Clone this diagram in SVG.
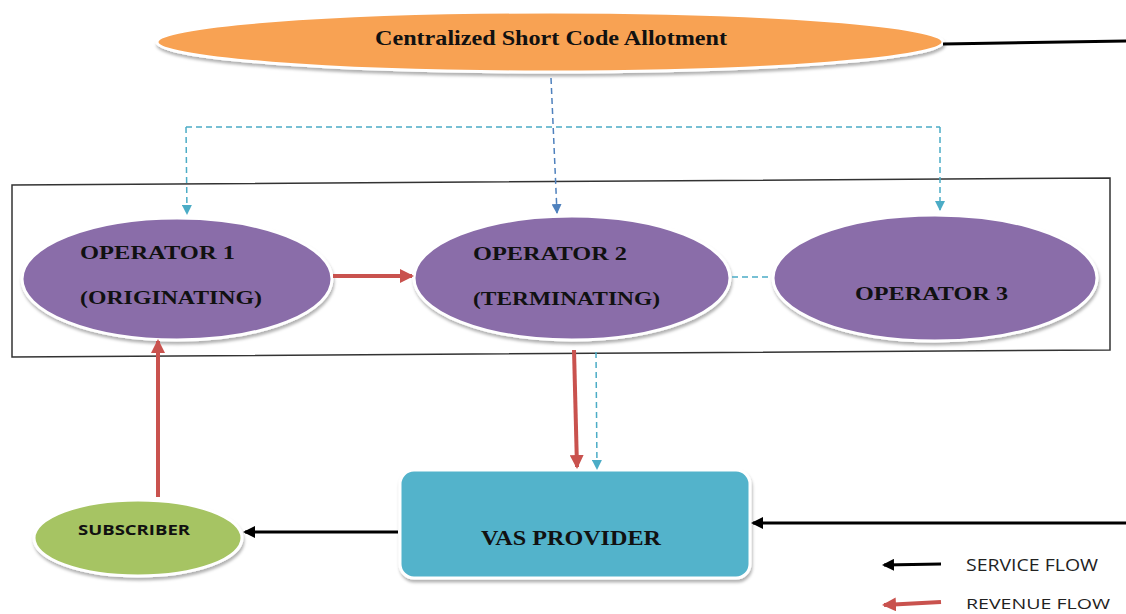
<svg xmlns="http://www.w3.org/2000/svg" width="1126" height="614" viewBox="0 0 1126 614">
<style>
.node{stroke:#ffffff;stroke-width:3}
.ser{font-family:"Liberation Serif","Times New Roman",serif;font-weight:bold;fill:#111}
.sans{font-family:"Open Sans","Liberation Sans",Arial,sans-serif;fill:#222}
.red{stroke:#C9524E;stroke-width:4;fill:none}
.blk{stroke:#000;stroke-width:3;fill:none}
.cyan{stroke:#4BACC6;stroke-width:1.5;stroke-dasharray:6 4;fill:none}
.blue{stroke:#4F81BD;stroke-width:1.5;stroke-dasharray:6 4;fill:none}
</style>
<defs>
<marker id="mRedL" markerWidth="14" markerHeight="14" refX="12" refY="7" orient="auto" markerUnits="userSpaceOnUse"><path d="M0,0 L14,7 L0,14 Z" fill="#C9524E"/></marker>
<marker id="mBlk" markerWidth="12" markerHeight="12" refX="10" refY="6" orient="auto" markerUnits="userSpaceOnUse"><path d="M0,0 L12,6 L0,12 Z" fill="#000"/></marker>
<marker id="mCyan" markerWidth="10" markerHeight="10" refX="9" refY="5" orient="auto" markerUnits="userSpaceOnUse"><path d="M0,0 L10,5 L0,10 Z" fill="#4BACC6"/></marker>
<marker id="mBlue" markerWidth="10" markerHeight="10" refX="9" refY="5" orient="auto" markerUnits="userSpaceOnUse"><path d="M0,0 L10,5 L0,10 Z" fill="#4F81BD"/></marker>
<filter id="sh" x="-10%" y="-10%" width="120%" height="130%"><feDropShadow dx="1" dy="3" stdDeviation="1.5" flood-color="#000" flood-opacity="0.3"/></filter>
</defs>

<g id="container"><path d="M12,185 L1110,178 L1110,350 L12,357 Z" fill="none" stroke="#333" stroke-width="1.5"/></g>

<g id="centralized">
<ellipse cx="550" cy="42" rx="393" ry="30" fill="#F8A253" class="node" filter="url(#sh)"/>
<text class="ser" x="551" y="45" font-size="22" text-anchor="middle" textLength="352" lengthAdjust="spacingAndGlyphs">Centralized Short Code Allotment</text>
</g>

<g id="operator1">
<ellipse cx="177" cy="279" rx="155" ry="61" fill="#8A6DA9" class="node" filter="url(#sh)"/>
<text class="ser" x="80" y="259" font-size="19" textLength="155" lengthAdjust="spacingAndGlyphs">OPERATOR 1</text>
<text class="ser" x="80" y="304" font-size="19" textLength="182" lengthAdjust="spacingAndGlyphs">(ORIGINATING)</text>
</g>

<g id="operator2">
<ellipse cx="572" cy="278" rx="158" ry="62" fill="#8A6DA9" class="node" filter="url(#sh)"/>
<text class="ser" x="473" y="260" font-size="19" textLength="154" lengthAdjust="spacingAndGlyphs">OPERATOR 2</text>
<text class="ser" x="473" y="305" font-size="19" textLength="187" lengthAdjust="spacingAndGlyphs">(TERMINATING)</text>
</g>

<g id="operator3">
<ellipse cx="935" cy="278" rx="162" ry="63" fill="#8A6DA9" class="node" filter="url(#sh)"/>
<text class="ser" x="855" y="300" font-size="19" textLength="153" lengthAdjust="spacingAndGlyphs">OPERATOR 3</text>
</g>

<g id="subscriber">
<ellipse cx="138" cy="538" rx="104" ry="38" fill="#A6C463" class="node" filter="url(#sh)"/>
<text x="78" y="535" font-size="15" font-weight="bold" textLength="112" lengthAdjust="spacingAndGlyphs" font-family="'Open Sans','Liberation Sans',sans-serif" fill="#111">SUBSCRIBER</text>
</g>

<g id="vas">
<rect x="400" y="470" width="350" height="108" rx="14" fill="#53B3CB" class="node" filter="url(#sh)"/>
<text class="ser" x="571" y="545" font-size="20" text-anchor="middle" textLength="180" lengthAdjust="spacingAndGlyphs">VAS PROVIDER</text>
</g>

<g id="connectors">
<path class="blk" d="M943,44 L1126,41"/>
<path class="blue" d="M551,78 L557,213" marker-end="url(#mBlue)"/>
<path class="cyan" d="M186,127 L940,127"/>
<path class="cyan" d="M186,127 L187,214" marker-end="url(#mCyan)"/>
<path class="cyan" d="M940,127 L940,210" marker-end="url(#mCyan)"/>
<path class="red" d="M333,276 L412,276" marker-end="url(#mRedL)"/>
<path class="cyan" d="M732,277 L772,277"/>
<path class="red" d="M158,497 L158,341" marker-end="url(#mRedL)"/>
<path class="red" d="M574,350 L577,467" marker-end="url(#mRedL)"/>
<path class="cyan" d="M596,352 L597,469" marker-end="url(#mCyan)"/>
<path class="blk" d="M398,532 L245,532" marker-end="url(#mBlk)"/>
<path class="blk" d="M1126,523 L753,523" marker-end="url(#mBlk)"/>
</g>

<g id="legend">
<path class="blk" d="M941,564 L884,565" marker-end="url(#mBlk)"/>
<text class="sans" x="966" y="571" font-size="16" textLength="132" lengthAdjust="spacingAndGlyphs">SERVICE FLOW</text>
<path class="red" d="M941,602 L884,605" marker-end="url(#mRedL)"/>
<text class="sans" x="966" y="609" font-size="15" textLength="144" lengthAdjust="spacingAndGlyphs">REVENUE FLOW</text>
</g>
</svg>
